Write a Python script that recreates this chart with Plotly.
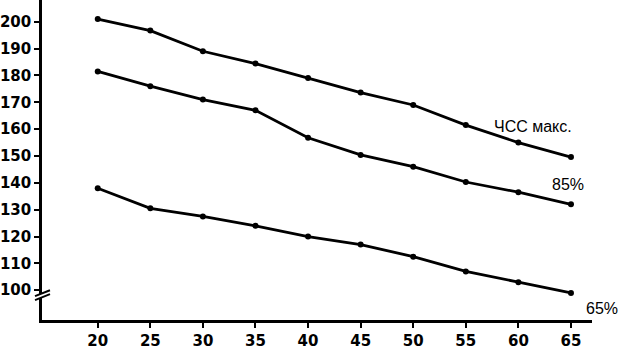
import plotly.graph_objects as go

ages = [20, 25, 30, 35, 40, 45, 50, 55, 60, 65]
hr_max = [201, 196.7, 189, 184.4, 179, 173.6, 169, 161.5, 155, 149.6]
hr_85 = [181.5, 176, 171, 167, 156.8, 150.4, 146, 140.3, 136.5, 132]
hr_65 = [138, 130.5, 127.5, 124, 120, 117, 112.5, 107, 103, 99]
series_labels = ["ЧСС макс.", "85%", "65%"]
x_ticks = [20, 25, 30, 35, 40, 45, 50, 55, 60, 65]
y_ticks = [100, 110, 120, 130, 140, 150, 160, 170, 180, 190, 200]

TICKFONT = dict(family="DejaVu Sans", size=15, color="black", weight="bold")
LABELFONT = dict(family="Liberation Sans, Arial, sans-serif", size=16, color="black")

fig = go.Figure()
for ys in (hr_max, hr_85, hr_65):
    fig.add_trace(go.Scatter(
        x=ages, y=ys, mode="lines+markers",
        line=dict(color="black", width=2.8),
        marker=dict(color="black", size=6),
        showlegend=False, cliponaxis=False,
    ))

label_pos = [(57.5, 161), (63.0, 139.5), (66.2, 93)]
for (lx, ly), txt in zip(label_pos, series_labels):
    fig.add_annotation(x=lx, y=ly, text=txt, showarrow=False,
                       xanchor="left", yanchor="middle", font=LABELFONT)

# axis break marks
fig.add_shape(type="path", xref="paper", yref="paper",
              path="M -0.0127 0.062 L 0.0145 0.081 L 0.0145 0.093 L -0.0127 0.0745 Z",
              fillcolor="white", line=dict(width=0))
for y0, y1 in ((0.062, 0.081), (0.0745, 0.093)):
    fig.add_shape(type="line", xref="paper", yref="paper",
                  x0=-0.0127, y0=y0, x1=0.0145, y1=y1,
                  line=dict(color="black", width=2))

fig.update_layout(
    width=623, height=350,
    margin=dict(l=40, r=31, t=0, b=28),
    plot_bgcolor="white", paper_bgcolor="white",
    font=LABELFONT,
    xaxis=dict(range=[14.7, 67], tickvals=x_ticks, showgrid=False, zeroline=False,
               showline=True, linecolor="black", linewidth=2.5,
               ticks="outside", ticklen=5, tickwidth=2, tickcolor="black",
               tickfont=TICKFONT),
    yaxis=dict(range=[88.9, 208.1], tickvals=y_ticks, showgrid=False, zeroline=False,
               showline=True, linecolor="black", linewidth=2.5,
               ticks="outside", ticklen=5, tickwidth=2, tickcolor="black",
               tickfont=TICKFONT, ticklabelstandoff=0),
)

fig.write_html("out.html")
